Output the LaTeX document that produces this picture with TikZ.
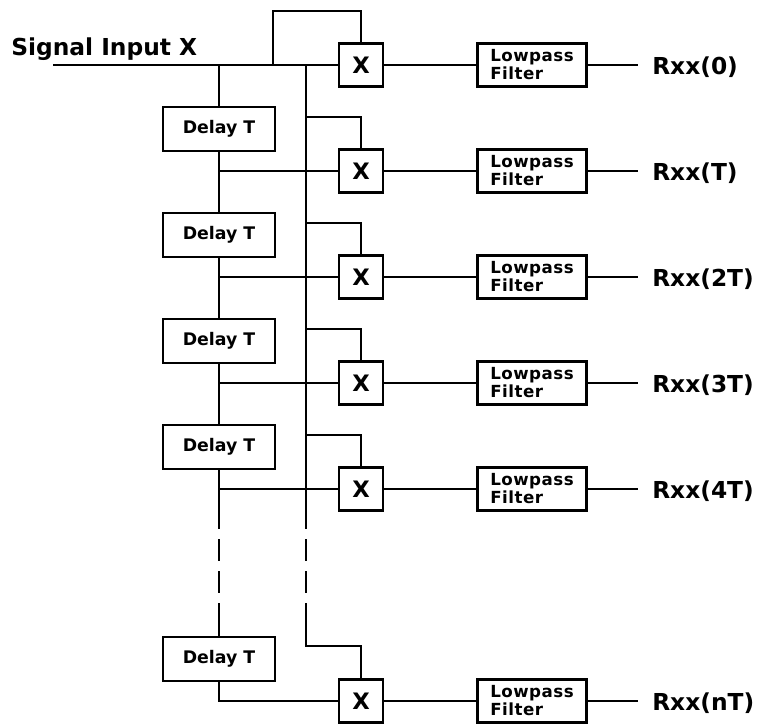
\documentclass[tikz,border=0pt]{standalone}
\usepackage{fontspec}
\setsansfont{DejaVu Sans}
\usetikzlibrary{positioning,calc}
\tikzset{
  wire/.style   ={line width=1.8pt},
  gapline/.style={line width=1.8pt,dash pattern=on 16.5pt off 7.5pt,dash phase=16.5pt},
  mult/.style   ={draw,line width=1.8pt,minimum width=33pt,minimum height=32pt,
                  inner sep=0pt,font=\sffamily\bfseries\fontsize{17}{17}\selectfont},
  dly/.style    ={draw,line width=1.8pt,minimum width=84pt,minimum height=33pt,
                  inner sep=0pt,font=\sffamily\bfseries\fontsize{13}{13}\selectfont},
  lpf/.style    ={draw,line width=1.8pt,minimum width=82pt,minimum height=32pt,
                  inner sep=0pt,align=left,
                  font=\sffamily\bfseries\fontsize{12.5}{13.5}\selectfont\addfontfeature{LetterSpace=3}},
  outl/.style   ={anchor=west,inner xsep=10.5pt,inner ysep=0pt,yshift=-2pt,
                  font=\sffamily\bfseries\fontsize{17.5}{17.5}\selectfont},
  inl/.style    ={anchor=base west,inner sep=0pt,
                  font=\sffamily\bfseries\fontsize{17.5}{17.5}\selectfont},
}

\begin{document}
\begin{tikzpicture}[x=0.75pt,y=-0.75pt]
\useasboundingbox (0,0) rectangle (761,725);
% input
\node[inl] (sig) at (11,55) {Signal Input X};
\coordinate (in) at (53,65);
\coordinate (j0) at (219,65);
\coordinate (t0) at (273,65);
\coordinate (t1) at (273,11);
\coordinate (b0) at (306,65);
% multipliers, filters, outputs
\foreach \i/\y/\lbl in {1/65/0,2/171/T,3/277/2T,4/383/3T,5/489/4T,6/701/nT}{
  \node[mult] (m\i) at (361,\y) {X};
  \node[lpf] (f\i) at (532,\y) {Lowpass\\Filter};
  \node[outl] (o\i) at (638,\y) {Rxx(\lbl)};
  \draw[wire] (m\i) -- (f\i);
  \draw[wire] (f\i) -- (o\i.west |- f\i);
}
% delay line
\foreach \k/\y in {1/129,2/235,3/341,4/447,5/659}
  \node[dly] (d\k) at (219,\y) {Delay T};
\coordinate (g1) at (219,529);
\coordinate (g2) at (219,604);
\coordinate (h1) at (306,529);
\coordinate (h2) at (306,604);
\coordinate (h3) at (306,646);

\draw[wire] (in) -- (m1.west);
\draw[wire] (t0) -- (t1) -| (m1.north);
\draw[wire] (j0) -- (d1.north);
\foreach \k/\n in {1/2,2/3,3/4}{
  \draw[wire] (d\k.south) -- (d\n.north);
}
\foreach \k/\n in {1/2,2/3,3/4,4/5}{
  \draw[wire] (d\k.south |- m\n.west) -- (m\n.west);
}
\draw[wire] (d4.south) -- (g1);
\draw[gapline] (g1) -- (g2);
\draw[wire] (g2) -- (d5.north);
\draw[wire] (d5.south) |- (m6.west);
% bus to multipliers
\draw[wire] (b0) -- (h1);
\draw[gapline] (h1) -- (h2);
\draw[wire] (h2) -- (h3) -| (m6.north);
\foreach \i in {2,...,5}{
  \coordinate (s\i) at ($(b0 |- m\i)+(0,-54)$);
  \draw[wire] (s\i) -| (m\i.north);
}
\end{tikzpicture}
\end{document}
